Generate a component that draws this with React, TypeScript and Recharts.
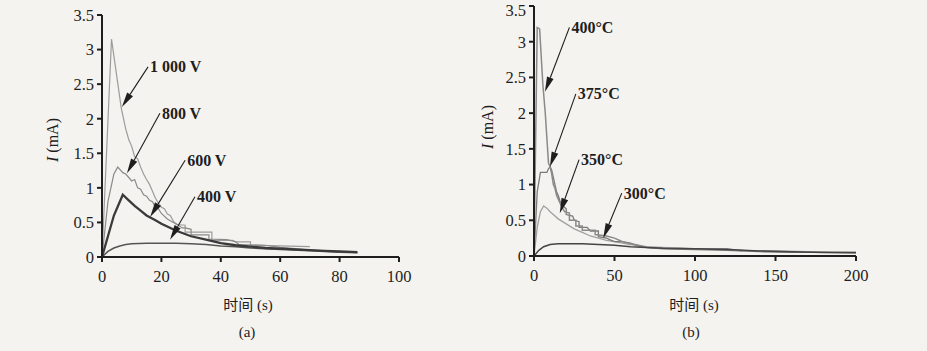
import { LineChart, Line, XAxis, YAxis, ReferenceLine } from 'recharts';

// (a) current vs time at different bonding voltages
const voltT1000 = [0, 3.2, 6.5, 8, 9, 10, 11, 12, 13, 14, 15, 16, 17, 18, 19, 20, 21, 22, 23, 24, 25, 28, 28, 37, 37, 44, 45, 50, 50, 60, 70];
const voltI1000 = [0, 3.15, 2.15, 1.85, 1.7, 1.6, 1.45, 1.42, 1.3, 1.2, 1.12, 1.05, 0.95, 0.85, 0.78, 0.72, 0.7, 0.62, 0.6, 0.52, 0.47, 0.46, 0.36, 0.36, 0.24, 0.24, 0.22, 0.22, 0.17, 0.16, 0.15];
const voltT800 = [0, 2, 4, 5.3, 7, 8, 9, 10, 11, 12, 13, 14, 15, 16, 17, 18, 19, 20, 22, 24, 25, 27, 28, 30, 30, 36, 36, 42, 45, 46, 55, 60, 65, 70, 75, 80];
const voltI800 = [0, 0.8, 1.2, 1.3, 1.22, 1.2, 1.15, 1.1, 1.12, 1.0, 0.98, 0.9, 0.88, 0.82, 0.8, 0.72, 0.7, 0.63, 0.55, 0.5, 0.48, 0.42, 0.42, 0.4, 0.32, 0.32, 0.26, 0.25, 0.22, 0.18, 0.17, 0.14, 0.12, 0.1, 0.09, 0.07];
const voltT600 = [0, 2, 4, 7, 9, 11, 13, 15, 18, 20, 25, 30, 35, 40, 45, 50, 55, 60, 65, 70, 75, 80, 86];
const voltI600 = [0, 0.3, 0.6, 0.9, 0.82, 0.74, 0.67, 0.6, 0.53, 0.48, 0.38, 0.3, 0.25, 0.2, 0.17, 0.15, 0.13, 0.12, 0.11, 0.1, 0.09, 0.08, 0.07];
const voltT400 = [0, 2, 4, 6, 8, 10, 15, 20, 25, 30, 35, 40, 45, 50, 55, 60, 70, 80, 86];
const voltI400 = [0, 0.08, 0.13, 0.16, 0.18, 0.19, 0.2, 0.2, 0.2, 0.19, 0.18, 0.16, 0.15, 0.13, 0.12, 0.11, 0.09, 0.07, 0.06];

// (b) current vs time at different temperatures
const tempT400 = [0, 2, 3.5, 5.5, 7, 9, 10, 11, 12, 13, 14, 15, 16, 17, 18, 19, 22, 22, 26, 26, 30, 30, 38, 38, 45, 50, 55, 60, 65, 70, 80, 100, 120, 126, 130];
const tempI400 = [0, 3.2, 3.18, 2.4, 2.0, 1.3, 1.25, 1.15, 1.0, 0.95, 0.85, 0.8, 0.75, 0.7, 0.66, 0.62, 0.6, 0.5, 0.5, 0.42, 0.42, 0.36, 0.36, 0.3, 0.28, 0.25, 0.2, 0.17, 0.15, 0.12, 0.11, 0.1, 0.1, 0.08, 0.07];
const tempT375 = [0, 2, 4, 8, 9, 10, 11, 12, 13, 14, 15, 16, 17, 18, 20, 20, 24, 25, 28, 28, 33, 35, 40, 40, 45, 48, 50, 55, 60, 65, 70, 80, 100, 120, 140, 160, 180, 200];
const tempI375 = [0, 0.9, 1.17, 1.17, 1.22, 1.25, 1.2, 1.1, 1.0, 0.9, 0.85, 0.78, 0.72, 0.7, 0.66, 0.58, 0.56, 0.5, 0.48, 0.4, 0.4, 0.35, 0.35, 0.27, 0.25, 0.22, 0.2, 0.2, 0.18, 0.14, 0.12, 0.1, 0.09, 0.08, 0.06, 0.05, 0.05, 0.04];
const tempT350 = [0, 2, 4, 6, 8, 10, 12, 15, 20, 25, 30, 35, 40, 45, 50, 60, 70, 80, 100, 120, 130, 150, 170, 200];
const tempI350 = [0, 0.4, 0.62, 0.7, 0.67, 0.62, 0.58, 0.52, 0.45, 0.38, 0.33, 0.28, 0.25, 0.22, 0.2, 0.16, 0.13, 0.12, 0.1, 0.09, 0.08, 0.07, 0.06, 0.05];
const tempT300 = [0, 3, 6, 10, 15, 20, 30, 40, 50, 60, 70, 80, 100, 120, 140, 160, 180, 200];
const tempI300 = [0, 0.08, 0.13, 0.16, 0.17, 0.17, 0.17, 0.16, 0.15, 0.13, 0.12, 0.11, 0.1, 0.09, 0.07, 0.06, 0.05, 0.05];

const yTicks = [0, 0.5, 1, 1.5, 2, 2.5, 3, 3.5];
const xTicksA = [0, 20, 40, 60, 80, 100];
const xTicksB = [0, 50, 100, 150, 200];

// annotation: label, arrow start (t, I), arrow tip (t, I)
const notesA = [
  { text: '1 000 V', from: [15.5, 2.75], to: [6.7, 2.17] },
  { text: '800 V', from: [19.5, 2.08], to: [8.4, 1.21] },
  { text: '600 V', from: [28, 1.4], to: [16.2, 0.58] },
  { text: '400 V', from: [31.3, 0.87], to: [22.9, 0.25] },
];
const notesB = [
  { text: '400°C', from: [22, 3.2], to: [6.8, 2.3] },
  { text: '375°C', from: [26, 2.27], to: [9.9, 1.25] },
  { text: '350°C', from: [28, 1.35], to: [16, 0.6] },
  { text: '300°C', from: [54.5, 0.88], to: [43, 0.25] },
];

const serif = '"Liberation Serif", "DejaVu Serif", serif';
const ink = '#1e1e1e';

const pts = (t: number[], v: number[]) => t.map((x, i) => ({ t: x, v: v[i] }));

const Arrow = (props: any) => {
  const { x1, y1, x2, y2, text } = props;
  const dx = x2 - x1;
  const dy = y2 - y1;
  const len = Math.sqrt(dx * dx + dy * dy) || 1;
  const ux = dx / len;
  const uy = dy / len;
  const hl = 15;
  const hw = 3.5;
  const bx = x2 - ux * hl;
  const by = y2 - uy * hl;
  return (
    <g>
      <line x1={x1} y1={y1} x2={bx} y2={by} stroke={ink} strokeWidth={1.1} />
      <polygon
        points={`${x2},${y2} ${bx - uy * hw},${by + ux * hw} ${bx + uy * hw},${by - ux * hw}`}
        fill={ink}
      />
      <text x={x1 + 2} y={y1} dominantBaseline="central" fontFamily={serif} fontSize={16} fontWeight="bold" fill={ink}>
        {text}
      </text>
    </g>
  );
};

const tickStyle = { fontFamily: serif, fontSize: 16.5, fill: ink };

const Panel = ({ series, notes, xMax, xTicks, width, margin }: any) => (
  <LineChart width={width} height={351} margin={margin} style={{ overflow: 'visible' }}>
    <XAxis
      type="number"
      dataKey="t"
      domain={[0, xMax]}
      ticks={xTicks}
      height={30}
      tick={tickStyle}
      tickSize={5}
      tickMargin={8}
      axisLine={{ stroke: ink, strokeWidth: 2 }}
      tickLine={{ stroke: ink, strokeWidth: 2 }}
    />
    <YAxis
      type="number"
      domain={[0, 3.5]}
      ticks={yTicks}
      width={40}
      tick={tickStyle}
      tickSize={5}
      tickMargin={3}
      axisLine={{ stroke: ink, strokeWidth: 2 }}
      tickLine={{ stroke: ink, strokeWidth: 2 }}
    />
    {series.map((s: any) => (
      <Line
        key={s.name}
        data={s.data}
        dataKey="v"
        type="linear"
        stroke={s.color}
        strokeWidth={s.w}
        dot={false}
        isAnimationActive={false}
      />
    ))}
    {notes.map((n: any) => (
      <ReferenceLine
        key={n.text}
        segment={[{ x: n.from[0], y: n.from[1] }, { x: n.to[0], y: n.to[1] }]}
        ifOverflow="visible"
        shape={(p: any) => <Arrow {...p} text={n.text} />}
      />
    ))}
  </LineChart>
);

const seriesA = [
  { name: '1000', data: pts(voltT1000, voltI1000), color: '#9c9c9c', w: 1.2 },
  { name: '800', data: pts(voltT800, voltI800), color: '#8a8a8a', w: 1.2 },
  { name: '400', data: pts(voltT400, voltI400), color: '#555555', w: 1.5 },
  { name: '600', data: pts(voltT600, voltI600), color: '#3a3a3a', w: 2.3 },
];
const seriesB = [
  { name: '350', data: pts(tempT350, tempI350), color: '#a0a0a0', w: 1.3 },
  { name: '375', data: pts(tempT375, tempI375), color: '#7a7a7a', w: 1.3 },
  { name: '400', data: pts(tempT400, tempI400), color: '#8a8a8a', w: 1.5 },
  { name: '300', data: pts(tempT300, tempI300), color: '#444444', w: 1.5 },
];

const abs = (x: number, y: number, extra: any = {}) => ({
  position: 'absolute' as const,
  left: x,
  top: y,
  transform: 'translate(-50%, -50%)',
  whiteSpace: 'nowrap' as const,
  color: ink,
  fontFamily: `${serif}, "Noto Sans CJK SC"`,
  fontSize: 15,
  ...extra,
});

export default function App() {
  return (
    <div style={{ position: 'relative', width: 927, height: 351, background: '#f5f3ef', overflow: 'hidden' }}>
      <style>{'body{margin:0}'}</style>
      <div style={{ position: 'absolute', left: 0, top: 0 }}>
        <Panel series={seriesA} notes={notesA} xMax={100} xTicks={xTicksA} width={460}
          margin={{ top: 15, right: 61, bottom: 64, left: 62 }} />
      </div>
      <div style={{ position: 'absolute', left: 460, top: 0 }}>
        <Panel series={seriesB} notes={notesB} xMax={200} xTicks={xTicksB} width={467}
          margin={{ top: 6, right: 71, bottom: 65, left: 34 }} />
      </div>
      <div style={abs(53, 140, { transform: 'translate(-50%, -50%) rotate(-90deg)', fontSize: 16 })}>
        <i>I</i> (mA)
      </div>
      <div style={abs(488, 127, { transform: 'translate(-50%, -50%) rotate(-90deg)', fontSize: 16 })}>
        <i>I</i> (mA)
      </div>
      <div style={abs(248, 303)}>时间 (s)</div>
      <div style={abs(694, 303)}>时间 (s)</div>
      <div style={abs(247, 332)}>(a)</div>
      <div style={abs(691, 332)}>(b)</div>
    </div>
  );
}
